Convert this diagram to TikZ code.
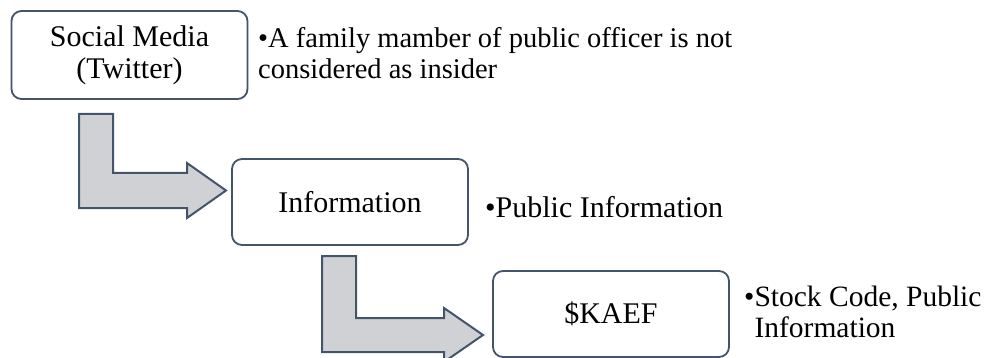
\documentclass[tikz,border=0pt]{standalone}
\usepackage{fontspec}
\setmainfont{Liberation Serif}
\definecolor{edgeblue}{HTML}{44546A}
\definecolor{arrowfill}{HTML}{D0D1D5}
\begin{document}
\begin{tikzpicture}[x=1pt,y=-1pt,
  box/.style={draw=edgeblue,line width=1.8pt,rounded corners=10pt,fill=white,
    minimum width=236pt,minimum height=86pt,inner sep=0pt,align=center,
    font=\fontsize{30}{32}\selectfont},
  note/.style={anchor=base west,inner sep=0pt,align=left,
    font=\fontsize{30}{31}\selectfont},
  bentarrow/.style={draw=edgeblue,line width=2pt,fill=arrowfill,line join=miter}]
\useasboundingbox (0,0) rectangle (987,358);
\clip (0,0) rectangle (987,358);
\node[box,minimum height=88pt] (b1) at (129.5,55) {Social Media\\(Twitter)};
\node[box] (b2) at (350,202) {Information};
\node[box] (b3) at (611,314) {\$KAEF};
\node[note,font=\fontsize{28.5}{31}\selectfont] (n1) at (258,79) {•A family mamber of public officer is not\\considered as insider};
\node[note] (n2) at (485,217) {•Public Information};
\node[note,font=\fontsize{29.5}{31}\selectfont] (n3) at (744,337) {•Stock Code, Public\\\hphantom{•}Information};
\draw[bentarrow] (79,114) -- (113,114) -- (113,173) -- (187,173) -- (187,163)
  -- (226,190.5) -- (187,218) -- (187,208) -- (79,208) -- cycle;
\draw[bentarrow] (322,256) -- (356,256) -- (356,318) -- (444,318) -- (444,308)
  -- (483,335) -- (444,362) -- (444,352) -- (322,352) -- cycle;
\end{tikzpicture}
\end{document}
